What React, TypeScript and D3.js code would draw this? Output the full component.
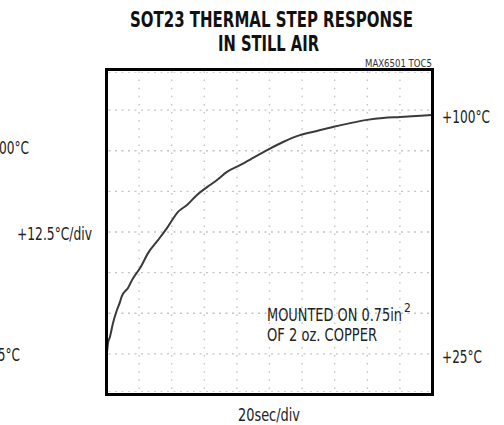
import React from "react";
import * as d3 from "d3";

// Trace data: time (s) vs temperature (°C)
const timeSec = [0, 0.3, 0.9, 2.1, 4.0, 6.4, 8.3, 9.3, 13.2, 16.3, 20.6, 25.5, 31.6, 37.1, 43.9, 49.4, 55.5, 61.7, 67.8, 73.9, 81.9, 89.9, 98.5, 108.3, 118.7, 129.1, 138.9, 149.4, 159.8, 169.6, 180.1, 190, 199.5];
const tempC = [24.5, 25.5, 28.3, 30.2, 34.5, 38.5, 41.0, 42.6, 45.3, 48.3, 51.4, 56.0, 60.0, 63.7, 68.7, 70.8, 73.9, 76.3, 78.5, 81.0, 83.1, 85.3, 87.7, 90.2, 92.3, 93.6, 94.8, 96.0, 97.0, 97.6, 97.9, 98.2, 98.5];

const xDivs = 10;
const yDivs = 8;
const secPerDiv = 20;
const degPerDiv = 12.5;
const yMin = 12.5;

const titleLines = ["SOT23 THERMAL STEP RESPONSE", "IN STILL AIR"];
const rightLabels = ["+100°C", "+25°C"];
const leftLabels = ["+100°C", "+25°C"];
const scaleLabel = "+12.5°C/div";
const xLabel = "20sec/div";
const noteLines = ["MOUNTED ON 0.75in", "OF 2 oz. COPPER"];
const noteSup = "2";
const figId = "MAX6501 TOC5";

const FONT = "'Liberation Sans Narrow', 'DejaVu Sans Condensed', 'Liberation Sans', Arial, sans-serif";

export default function App() {
  const L = 106.5, R = 432.5, T = 69.5, B = 394.5;
  const x = d3.scaleLinear().domain([0, xDivs * secPerDiv]).range([L, R]);
  const y = d3.scaleLinear().domain([yMin, yMin + yDivs * degPerDiv]).range([B, T]);

  const line = d3.line<number>()
    .x((_, i) => x(timeSec[i]))
    .y((d) => y(d))
    .curve(d3.curveMonotoneX);

  const xGrid = d3.range(1, xDivs).map((i) => i * secPerDiv);
  const yGrid = d3.range(1, yDivs).map((i) => yMin + i * degPerDiv);

  const lab = { fontFamily: FONT, fontSize: 17.5, fill: "#222" } as const;

  return (
    <svg width={504} height={425} style={{ position: "absolute", left: 0, top: 0, background: "#fff" }}>
      <rect x={0} y={0} width={504} height={425} fill="#fff" />
      {/* title */}
      <text x={271.5} y={27} textAnchor="middle" fontFamily={FONT} fontWeight="bold" fontSize={22}
        textLength={283} lengthAdjust="spacingAndGlyphs" fill="#111">{titleLines[0]}</text>
      <text x={268.5} y={51} textAnchor="middle" fontFamily={FONT} fontWeight="bold" fontSize={22}
        textLength={101} lengthAdjust="spacingAndGlyphs" fill="#111">{titleLines[1]}</text>
      <text x={432} y={67} textAnchor="end" fontFamily={FONT} fontSize={10}
        textLength={67} lengthAdjust="spacingAndGlyphs" fill="#333">{figId}</text>

      {/* grid */}
      {xGrid.map((t) => (
        <line key={"gx" + t} x1={x(t)} x2={x(t)} y1={T + 2} y2={B - 2} stroke="#c4c4c4" strokeWidth={1.4}
          strokeDasharray="1.5 6.6" />
      ))}
      {yGrid.map((v) => (
        <line key={"gy" + v} x1={L + 2} x2={R - 2} y1={y(v)} y2={y(v)} stroke="#c4c4c4" strokeWidth={1.4}
          strokeDasharray="2 4.5" />
      ))}
      <line x1={L + 2} x2={R - 2} y1={T + 3} y2={T + 3} stroke="#d4d4d4" strokeWidth={1.2} strokeDasharray="2 4.5" />
      <line x1={L + 2} x2={R - 2} y1={B - 3} y2={B - 3} stroke="#d4d4d4" strokeWidth={1.2} strokeDasharray="2 4.5" />

      {/* trace */}
      <path d={line(tempC) || ""} fill="none" stroke="#3a3a3a" strokeWidth={2} strokeLinejoin="round" />

      {/* frame */}
      <rect x={L} y={T} width={R - L} height={B - T} fill="none" stroke="#000" strokeWidth={3} />

      {/* right labels */}
      <text x={442} y={123} {...lab} textLength={48} lengthAdjust="spacingAndGlyphs">{rightLabels[0]}</text>
      <text x={442} y={363} {...lab} textLength={40} lengthAdjust="spacingAndGlyphs">{rightLabels[1]}</text>

      {/* left labels (partly off canvas, as in the reference) */}
      <text x={-19} y={154} {...lab} textLength={48} lengthAdjust="spacingAndGlyphs">{leftLabels[0]}</text>
      <text x={-20} y={361} {...lab} textLength={40} lengthAdjust="spacingAndGlyphs">{leftLabels[1]}</text>
      <text x={17} y={240} {...lab} textLength={75} lengthAdjust="spacingAndGlyphs">{scaleLabel}</text>

      {/* note */}
      <text x={267} y={321} {...lab}>
        <tspan textLength={135} lengthAdjust="spacingAndGlyphs">{noteLines[0]}</tspan>
        <tspan x={404} dy={-9} fontSize={12}>{noteSup}</tspan>
      </text>
      <text x={267} y={341} {...lab} textLength={110} lengthAdjust="spacingAndGlyphs">{noteLines[1]}</text>

      {/* x label */}
      <text x={238} y={421} {...lab} textLength={62} lengthAdjust="spacingAndGlyphs">{xLabel}</text>
    </svg>
  );
}
